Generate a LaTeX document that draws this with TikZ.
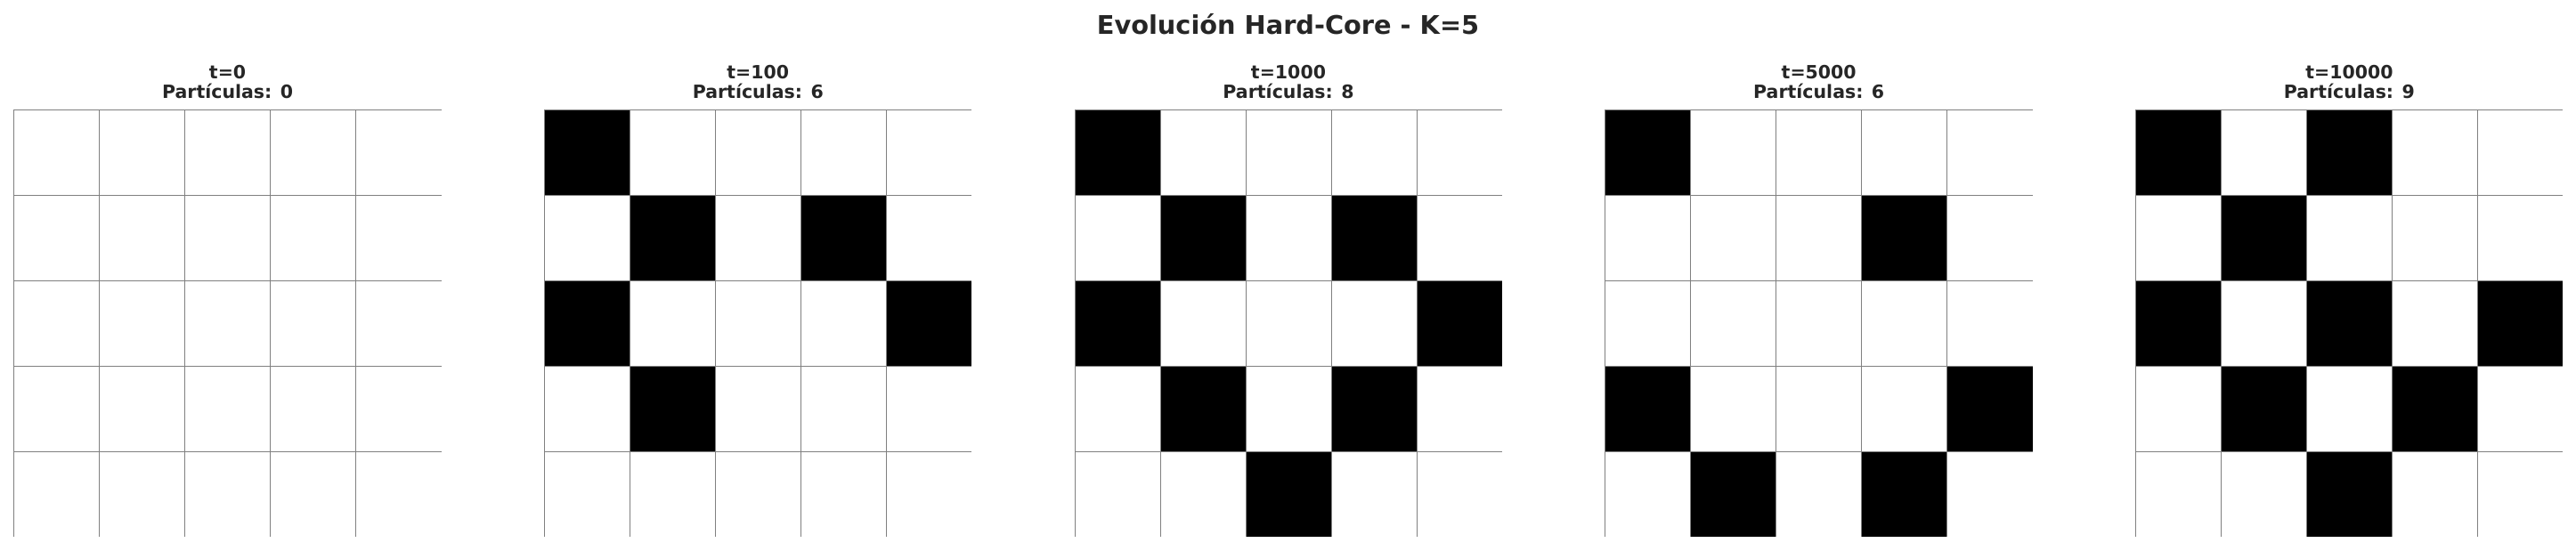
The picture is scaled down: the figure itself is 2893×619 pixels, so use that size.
\documentclass[tikz,border=0pt]{standalone}
\usepackage{fontspec}
\setmainfont{DejaVu Sans}
\usetikzlibrary{positioning}
\definecolor{labelgray}{HTML}{262626}
\definecolor{linegray}{HTML}{808080}
\tikzset{
  figtitle/.style={anchor=base, inner sep=0pt, text=labelgray, font=\bfseries\fontsize{14.4}{17}\selectfont},
  paneltitle/.style={anchor=base, inner sep=0pt, text=labelgray, font=\bfseries\fontsize{10.25}{12}\selectfont},
  gridline/.style={draw=linegray, line width=0.5pt},
  particle/.style={fill=black}
}
\begin{document}
\begin{tikzpicture}[x=0.5pt, y=-0.5pt]
  \useasboundingbox (0,0) rectangle (2893,619);
  \node[figtitle] (title) at (1446.5,38.3) {Evolución Hard-Core - K=5};
  \foreach \k/\tstep/\npart in {0/0/0, 1/100/6, 2/1000/8, 3/5000/6, 4/10000/9}{
    \node[paneltitle] (time\k) at (255.6+595.7*\k,88.3) {t=\tstep};
    \node[paneltitle] (count\k) at (255.6+595.7*\k,110.7) {Partículas: \npart};
  }
  \foreach \c/\r in {0/0, 1/1, 3/1, 0/2, 4/2, 1/3}
    \fill[particle] (611.3+96*\c,123.3+96*\r) rectangle +(96,96);
  \foreach \c/\r in {0/0, 1/1, 3/1, 0/2, 4/2, 1/3, 3/3, 2/4}
    \fill[particle] (1207.0+96*\c,123.3+96*\r) rectangle +(96,96);
  \foreach \c/\r in {0/0, 3/1, 0/3, 4/3, 1/4, 3/4}
    \fill[particle] (1802.7+96*\c,123.3+96*\r) rectangle +(96,96);
  \foreach \c/\r in {0/0, 2/0, 1/1, 0/2, 2/2, 4/2, 1/3, 3/3, 2/4}
    \fill[particle] (2398.4+96*\c,123.3+96*\r) rectangle +(96,96);
  \foreach \k in {0,...,4}{
    \foreach \j in {0,...,4}{
      \draw[gridline] (15.6+595.7*\k+96*\j,123.3) -- ++(0,480);
      \draw[gridline] (15.6+595.7*\k,123.3+96*\j) -- ++(480,0);
    }
  }
\end{tikzpicture}
\end{document}
